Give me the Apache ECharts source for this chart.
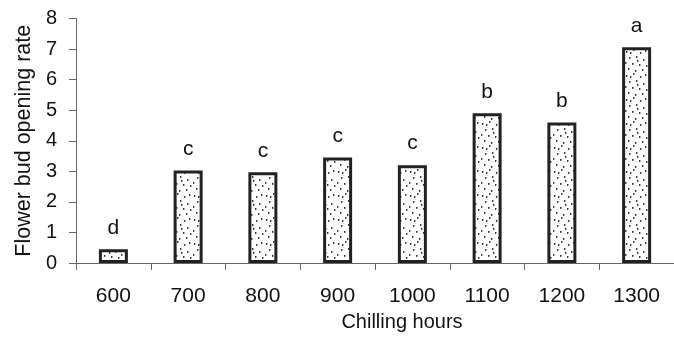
<!DOCTYPE html>
<html>
<head>
<meta charset="utf-8">
<script src="https://cdn.jsdelivr.net/npm/echarts@6/dist/echarts.min.js"></script>
<style>
  html, body { margin: 0; padding: 0; background: #fff; }
  #chart { width: 674px; height: 340px; }
</style>
</head>
<body>
<div id="chart"></div>
<script>
var hours = ['600', '700', '800', '900', '1000', '1100', '1200', '1300']
var openingRate = [0.45, 3.03, 2.97, 3.45, 3.2, 4.9, 4.6, 7.06]
var letters = ['d', 'c', 'c', 'c', 'c', 'b', 'b', 'a']

// stipple fill for the bars
function makeDots() {
  var c = document.createElement('canvas')
  c.width = 24
  c.height = 24
  var ctx = c.getContext('2d')
  ctx.fillStyle = '#fff'
  ctx.fillRect(0, 0, 24, 24)
  ctx.fillStyle = '#2a2a2a'
  var pts = [[2, 3], [9, 1], [16, 4], [21, 2], [5, 9], [12, 8], [19, 11], [1, 14],
    [8, 15], [15, 16], [22, 17], [4, 20], [11, 22], [18, 21], [13, 12], [6, 4]]
  pts.forEach(function (p) {
    ctx.fillRect(p[0], p[1], 1.4, 1.8)
  })
  return c
}

var myChart = echarts.init(document.getElementById('chart'))
myChart.setOption({
  animation: false,
  textStyle: { fontFamily: 'Liberation Sans, Arial, sans-serif' },
  grid: { left: 76, right: 0, top: 18.5, bottom: 77 },
  xAxis: {
    type: 'category',
    data: hours,
    name: 'Chilling hours',
    nameLocation: 'middle',
    nameGap: 49,
    nameTextStyle: { color: '#111', fontSize: 20, padding: [0, 0, 0, 54] },
    axisLine: { lineStyle: { color: '#666', width: 1 } },
    axisTick: { show: true, inside: false, length: 7, lineStyle: { color: '#666' } },
    axisLabel: { color: '#111', fontSize: 21, margin: 23 }
  },
  yAxis: {
    type: 'value',
    min: 0,
    max: 8,
    interval: 1,
    name: 'Flower bud opening rate',
    nameLocation: 'middle',
    nameGap: 41,
    nameTextStyle: { color: '#111', fontSize: 21.5 },
    splitLine: { show: false },
    axisLine: { show: true, lineStyle: { color: '#666', width: 1 } },
    axisTick: { show: true, length: 7, lineStyle: { color: '#666' } },
    axisLabel: { color: '#111', fontSize: 20, margin: 19 }
  },
  series: [
    {
      type: 'bar',
      barWidth: 29,
      data: openingRate,
      itemStyle: {
        color: { image: makeDots(), repeat: 'repeat' },
        borderColor: '#222',
        borderWidth: 3
      },
      label: {
        show: true,
        position: 'top',
        distance: 11,
        color: '#111',
        fontSize: 21,
        formatter: function (p) {
          return letters[p.dataIndex]
        }
      }
    }
  ]
})
</script>
</body>
</html>
